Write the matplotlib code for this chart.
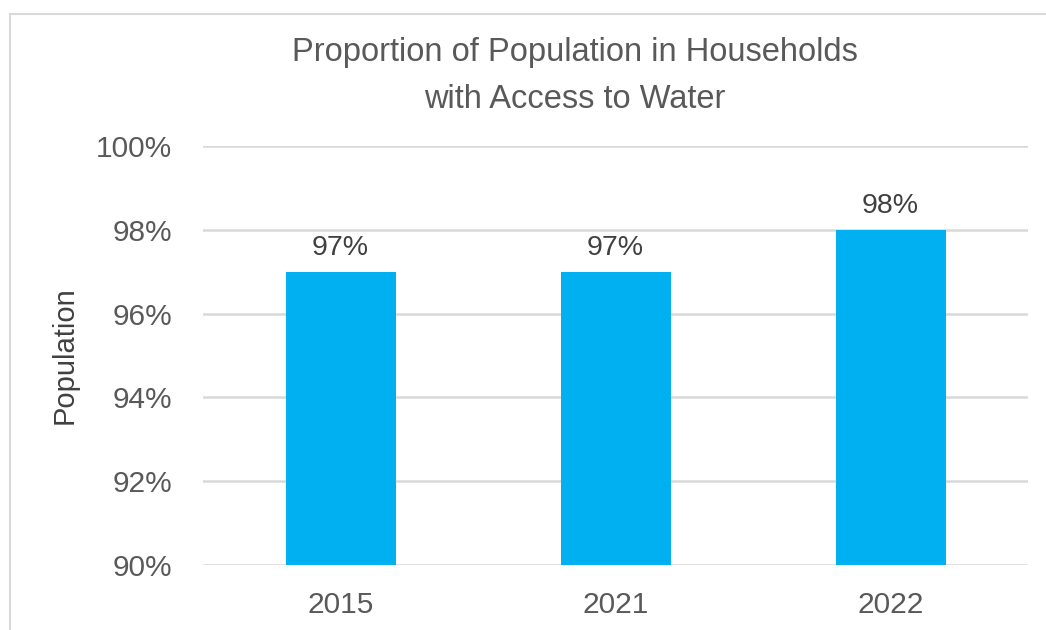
import matplotlib.pyplot as plt
from matplotlib.lines import Line2D
from matplotlib.ticker import FuncFormatter

years = ["2015", "2021", "2022"]
values = [97, 97, 98]
y_ticks = [90, 92, 94, 96, 98, 100]

plt.rcParams['font.family'] = ['Liberation Sans', 'DejaVu Sans']

fig = plt.figure(figsize=(10.46, 6.3), dpi=100)
ax = fig.add_axes([203 / 1046, 1 - 565 / 630, 825 / 1046, 419 / 630])

x = range(len(years))
bars = ax.bar(x, values, width=0.4, color="#00B0F0", zorder=3)

ax.set_ylim(90, 100)
ax.set_xlim(-0.5, len(years) - 0.5)
ax.set_yticks(y_ticks)
ax.yaxis.set_major_formatter(FuncFormatter(lambda v, p: f"{v:.0f}%"))
ax.set_xticks(list(x))
ax.set_xticklabels(years)

ax.grid(axis='y', color="#D9D9D9", linewidth=1.8, zorder=0)
for s in ax.spines.values():
    s.set_visible(False)
ax.tick_params(axis='both', length=0, labelsize=21.5, colors="#595959")
ax.tick_params(axis='y', pad=22)
ax.tick_params(axis='x', pad=19)

# axis title, placed in figure coords
fig.text(65 / 1046, 1 - 355 / 630, "Population", rotation=90,
         ha="center", va="center", fontsize=21, color="#404040")

# value labels on top of bars
for xi, v in zip(x, values):
    ax.annotate(f"{v}%", (xi, v), xytext=(0, 8), textcoords="offset points",
                ha="center", va="bottom", fontsize=20.5, color="#404040")

fig.text(575 / 1046, 1 - 76 / 630,
         "Proportion of Population in Households\nwith Access to Water",
         ha="center", va="center", fontsize=23.5, color="#595959",
         linespacing=1.7)

# chart area border (top and left edges)
fig.add_artist(Line2D([10 / 1046, 10 / 1046], [0, 1 - 14 / 630],
                      transform=fig.transFigure, color="#D9D9D9", lw=1.5))
fig.add_artist(Line2D([10 / 1046, 1], [1 - 14 / 630, 1 - 14 / 630],
                      transform=fig.transFigure, color="#D9D9D9", lw=1.5))

fig.savefig("out.png", dpi=100)
